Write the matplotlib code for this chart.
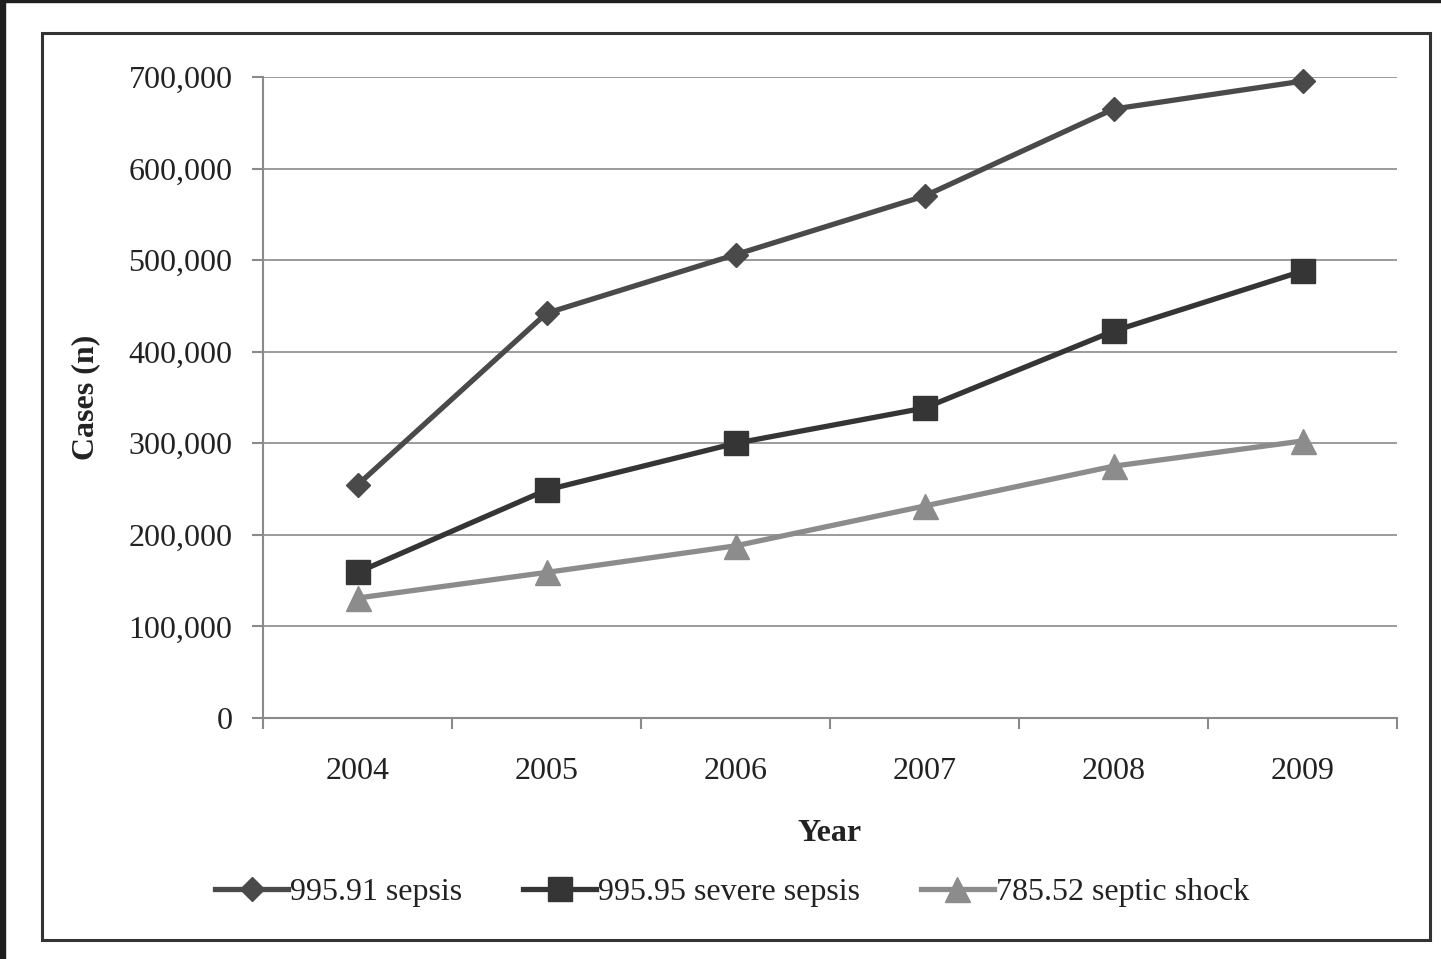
import matplotlib
matplotlib.use("Agg")
import matplotlib.pyplot as plt
from matplotlib.patches import Rectangle
from matplotlib.ticker import FuncFormatter, FixedLocator
import numpy as np

years = ["2004", "2005", "2006", "2007", "2008", "2009"]
sepsis = [254500, 442000, 506000, 570000, 665000, 695500]
severe_sepsis = [159000, 249000, 300000, 338500, 422500, 488000]
septic_shock = [131000, 159000, 188000, 231500, 275000, 302500]
series_labels = ["995.91 sepsis", "995.95 severe sepsis", "785.52 septic shock"]
y_ticks = [0, 100000, 200000, 300000, 400000, 500000, 600000, 700000]

plt.rcParams['font.family'] = ['Liberation Serif', 'DejaVu Serif']

W, H = 1441, 959
fig = plt.figure(figsize=(W / 100, H / 100), dpi=100)

# page-like dark borders
fig.patches.append(Rectangle((0, 0), 5 / W, 1, transform=fig.transFigure, color='#1e1e1e', zorder=0))
fig.patches.append(Rectangle((0, 1 - 2 / H), 1, 2 / H, transform=fig.transFigure, color='#1e1e1e', zorder=0))
# chart frame
fig.patches.append(Rectangle((42 / W, 1 - 940 / H), (1430 - 42) / W, (940 - 33) / H,
                             transform=fig.transFigure, fill=False, edgecolor='#333333', lw=2.2, zorder=1))

left, right = 263 / W, 1397 / W
bottom, top = 1 - 718 / H, 1 - 77 / H
ax = fig.add_axes([left, bottom, right - left, top - bottom])

x = np.arange(len(years))
grid_c = '#8a8a8a'

for yt in y_ticks[1:]:
    ax.axhline(yt, color=grid_c, lw=1.2, zorder=1)

ax.plot(x, sepsis, color='#4a4a4a', lw=3.8, marker='D', ms=12.5, label=series_labels[0],
        zorder=3, clip_on=False)
ax.plot(x, severe_sepsis, color='#353535', lw=3.8, marker='s', ms=17, label=series_labels[1],
        zorder=3, clip_on=False)
ax.plot(x, septic_shock, color='#8c8c8c', lw=3.8, marker='^', ms=18, label=series_labels[2],
        zorder=3, clip_on=False)

ax.set_xlim(-0.5, len(years) - 0.5)
ax.set_ylim(0, 700000)

for s in ['top', 'right']:
    ax.spines[s].set_visible(False)
ax.spines['left'].set_color(grid_c)
ax.spines['left'].set_linewidth(1.5)
ax.spines['bottom'].set_color(grid_c)
ax.spines['bottom'].set_linewidth(1.5)

ax.yaxis.set_major_locator(FixedLocator(y_ticks))
ax.yaxis.set_major_formatter(FuncFormatter(lambda v, p: f"{int(v):,}"))
ax.tick_params(axis='y', direction='out', length=8, width=1.5, color=grid_c,
               labelsize=23, pad=14, labelcolor='#222222')

ax.set_xticks(np.arange(-0.5, len(years), 1.0))
ax.set_xticklabels([])
ax.set_xticks(x, minor=True)
ax.set_xticklabels(years, minor=True)
ax.tick_params(axis='x', which='major', direction='out', length=8, width=1.5, color=grid_c)
ax.tick_params(axis='x', which='minor', length=0, labelsize=23, pad=28, labelcolor='#222222')

ax.set_ylabel("Cases (n)", fontsize=23, fontweight='bold', labelpad=20, color='#222222')
ax.set_xlabel("Year", fontsize=23, fontweight='bold', labelpad=24, color='#222222')

leg = fig.legend(loc='center', bbox_to_anchor=(732 / W, 1 - 892 / H), ncol=3, frameon=False,
                 fontsize=23, handlelength=2.3, handletextpad=0.05, columnspacing=1.9)
for t in leg.get_texts():
    t.set_color('#222222')

fig.savefig("out.png", dpi=100)
